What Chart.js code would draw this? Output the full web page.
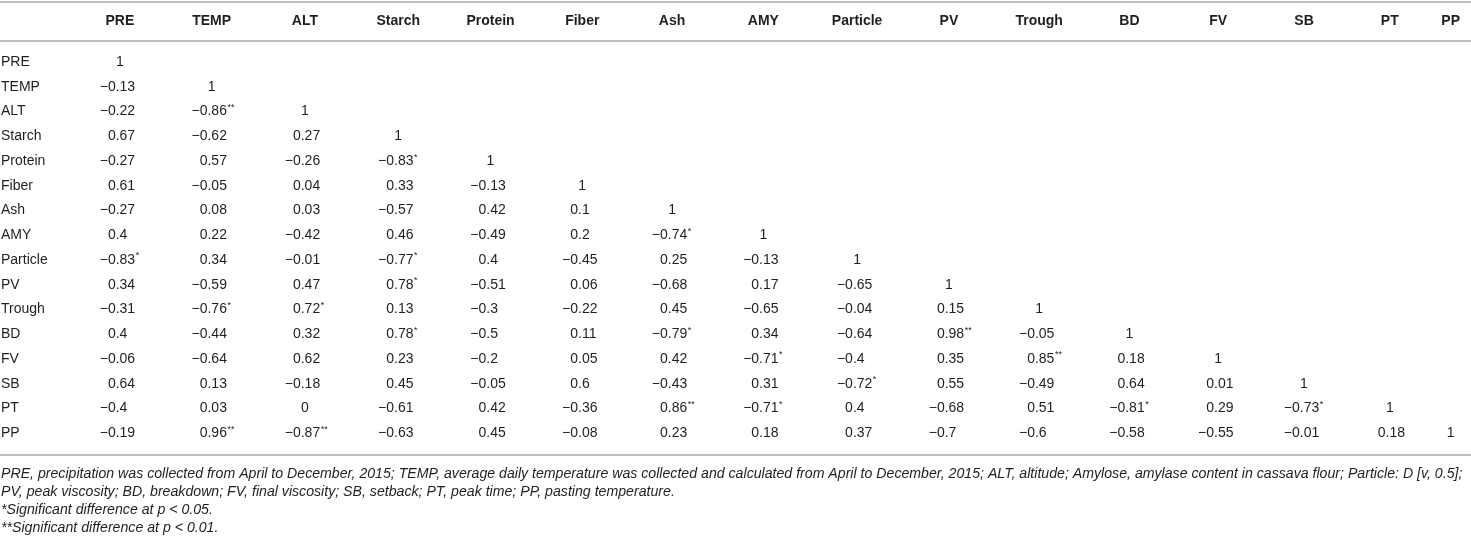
<!DOCTYPE html>
<html>
<head>
<meta charset="utf-8">
<script src="https://cdn.jsdelivr.net/npm/chart.js@4.4.1/dist/chart.umd.min.js"></script>
<style>
  html, body { margin: 0; padding: 0; background: #ffffff; }
  #wrap { width: 1471px; height: 547px; }
</style>
</head>
<body>
<div id="wrap"><canvas id="chart" width="1471" height="547"></canvas></div>
<script>
// ---------------- DATA ----------------
const variables = ["PRE", "TEMP", "ALT", "Starch", "Protein", "Fiber", "Ash", "AMY",
                   "Particle", "PV", "Trough", "BD", "FV", "SB", "PT", "PP"];

// lower-triangle correlation rows (column order = variables)
const rowPRE      = [1];
const rowTEMP     = [-0.13, 1];
const rowALT      = [-0.22, -0.86, 1];
const rowStarch   = [0.67, -0.62, 0.27, 1];
const rowProtein  = [-0.27, 0.57, -0.26, -0.83, 1];
const rowFiber    = [0.61, -0.05, 0.04, 0.33, -0.13, 1];
const rowAsh      = [-0.27, 0.08, 0.03, -0.57, 0.42, 0.1, 1];
const rowAMY      = [0.4, 0.22, -0.42, 0.46, -0.49, 0.2, -0.74, 1];
const rowParticle = [-0.83, 0.34, -0.01, -0.77, 0.4, -0.45, 0.25, -0.13, 1];
const rowPV       = [0.34, -0.59, 0.47, 0.78, -0.51, 0.06, -0.68, 0.17, -0.65, 1];
const rowTrough   = [-0.31, -0.76, 0.72, 0.13, -0.3, -0.22, 0.45, -0.65, -0.04, 0.15, 1];
const rowBD       = [0.4, -0.44, 0.32, 0.78, -0.5, 0.11, -0.79, 0.34, -0.64, 0.98, -0.05, 1];
const rowFV       = [-0.06, -0.64, 0.62, 0.23, -0.2, 0.05, 0.42, -0.71, -0.4, 0.35, 0.85, 0.18, 1];
const rowSB       = [0.64, 0.13, -0.18, 0.45, -0.05, 0.6, -0.43, 0.31, -0.72, 0.55, -0.49, 0.64, 0.01, 1];
const rowPT       = [-0.4, 0.03, 0, -0.61, 0.42, -0.36, 0.86, -0.71, 0.4, -0.68, 0.51, -0.81, 0.29, -0.73, 1];
const rowPP       = [-0.19, 0.96, -0.87, -0.63, 0.45, -0.08, 0.23, 0.18, 0.37, -0.7, -0.6, -0.58, -0.55, -0.01, 0.18, 1];

const rows = [rowPRE, rowTEMP, rowALT, rowStarch, rowProtein, rowFiber, rowAsh, rowAMY,
              rowParticle, rowPV, rowTrough, rowBD, rowFV, rowSB, rowPT, rowPP];

// significance markers, "row:column"
const sigP05 = ["Protein:Starch", "AMY:Ash", "Particle:PRE", "Particle:Starch", "PV:Starch",
                "Trough:TEMP", "Trough:ALT", "BD:Starch", "BD:Ash", "FV:AMY", "SB:Particle",
                "PT:AMY", "PT:BD", "PT:SB"];
const sigP01 = ["ALT:TEMP", "BD:PV", "FV:Trough", "PT:Ash", "PP:TEMP", "PP:ALT"];

const footnotes = [
  "PRE, precipitation was collected from April to December, 2015; TEMP, average daily temperature was collected and calculated from April to December, 2015; ALT, altitude; Amylose, amylase content in cassava flour; Particle: D [v, 0.5];",
  "PV, peak viscosity; BD, breakdown; FV, final viscosity; SB, setback; PT, peak time; PP, pasting temperature.",
  "*Significant difference at p < 0.05.",
  "**Significant difference at p < 0.01."
];

// ---------------- LAYOUT / STYLE ----------------
const colWidths = [92, 92, 95, 92, 93, 91, 89, 94, 94, 90, 91, 90, 88, 84, 88, 34]; // relative table column widths
const FONT = "'Liberation Sans', Arial, Helvetica, sans-serif";
const TEXT = "#1f1f1f";
const RULE = "#bcbcbc";
const decimalShift = -12;      // px: start of integer part relative to column centre

const colCenters = [];
(function () { let acc = 0; colWidths.forEach(w => { colCenters.push(acc + w / 2); acc += w; }); })();
const totalWidth = colWidths.reduce((a, b) => a + b, 0);

const points = [];
rows.forEach((r, i) => r.forEach((v, j) => {
  const key = variables[i] + ":" + variables[j];
  const s = sigP01.includes(key) ? "**" : (sigP05.includes(key) ? "*" : "");
  points.push({ x: colCenters[j], y: i, v: v, s: s });
}));

const cellText = {
  id: "cellText",
  afterDatasetsDraw(chart) {
    const ctx = chart.ctx;
    const meta = chart.getDatasetMeta(0);
    const data = chart.data.datasets[0].data;
    ctx.save();
    ctx.fillStyle = TEXT;
    ctx.textBaseline = "middle";
    meta.data.forEach((el, k) => {
      const raw = data[k];
      const x = el.x, y = el.y;
      const body = String(Math.abs(raw.v));
      ctx.font = "14px " + FONT;
      if (Number.isInteger(raw.v)) {
        ctx.textAlign = "center";
        ctx.fillText(body, x, y);
        return;
      }
      const a = x + decimalShift;
      if (raw.v < 0) { ctx.textAlign = "right"; ctx.fillText("\u2212", a, y); }
      ctx.textAlign = "left";
      ctx.fillText(body, a, y);
      if (raw.s) {
        const w = ctx.measureText(body).width;
        ctx.font = "9px " + FONT;
        ctx.fillText(raw.s, a + w + 0.5, y - 4);
      }
    });
    ctx.restore();
  }
};

const rules = {
  id: "rules",
  afterDraw(chart) {
    const ctx = chart.ctx;
    const ys = [chart.scales.x.top, chart.chartArea.top, chart.chartArea.bottom];
    ctx.save();
    ctx.strokeStyle = RULE;
    ctx.lineWidth = 1.8;
    ys.forEach(y => {
      ctx.beginPath();
      ctx.moveTo(0, y);
      ctx.lineTo(chart.width, y);
      ctx.stroke();
    });
    ctx.restore();
  }
};

new Chart(document.getElementById("chart"), {
  type: "scatter",
  data: { datasets: [{ data: points, pointRadius: 0, pointHoverRadius: 0, showLine: false }] },
  options: {
    responsive: false,
    animation: false,
    events: [],
    layout: { padding: { top: 2, left: 1, right: 0, bottom: 0 } },
    plugins: {
      legend: { display: false },
      tooltip: { enabled: false },
      title: {
        display: true,
        position: "bottom",
        align: "start",
        text: footnotes,
        color: TEXT,
        font: { family: FONT, size: 14.15, style: "italic", weight: "normal", lineHeight: "18px" },
        padding: { top: 10, bottom: 10 }
      }
    },
    scales: {
      x: {
        type: "linear",
        position: "top",
        min: 0,
        max: totalWidth,
        grid: { display: false, drawTicks: false },
        border: { display: false },
        afterBuildTicks: s => { s.ticks = colCenters.map(c => ({ value: c })); },
        afterFit: s => { s.height = 39; },
        ticks: {
          autoSkip: false, maxRotation: 0, minRotation: 0, padding: 11,
          color: TEXT,
          font: { family: FONT, size: 14, weight: "bold" },
          callback: (v, i) => variables[i]
        }
      },
      y: {
        type: "linear",
        position: "left",
        reverse: true,
        min: -0.85,
        max: 15.88,
        grid: { display: false, drawTicks: false },
        border: { display: false },
        afterBuildTicks: s => { s.ticks = variables.map((_, i) => ({ value: i })); },
        afterFit: s => { s.width = 73; },
        ticks: {
          autoSkip: false, padding: 0, crossAlign: "far",
          color: TEXT,
          font: { family: FONT, size: 14 },
          callback: v => variables[v]
        }
      }
    }
  },
  plugins: [cellText, rules]
});
</script>
</body>
</html>
